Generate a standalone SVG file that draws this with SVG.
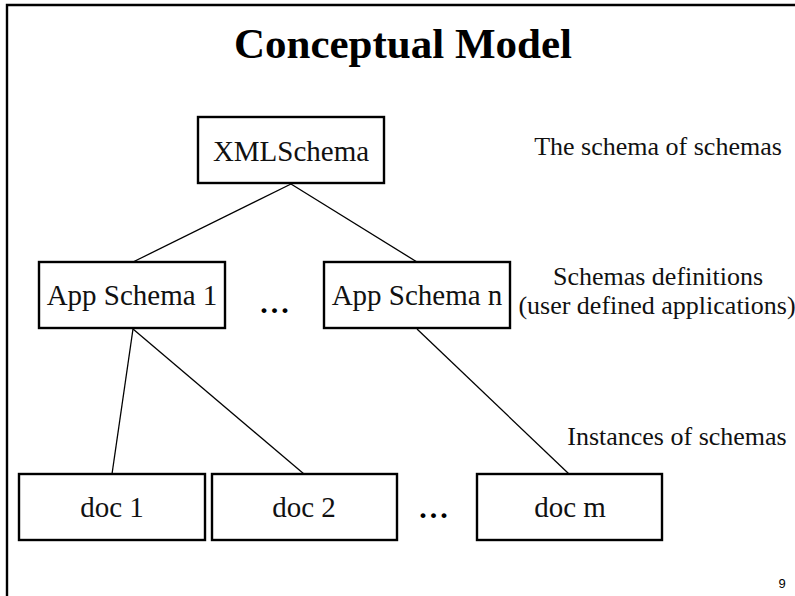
<svg xmlns="http://www.w3.org/2000/svg" width="795" height="596" viewBox="0 0 795 596">
  <style>
    .frame { fill: none; stroke: #000; stroke-width: 2.4; }
    .box { fill: #fff; stroke: #000; stroke-width: 2.4; }
    .edge { stroke: #000; stroke-width: 1.3; fill: none; }
    .title { font-family: "Liberation Serif", "Times New Roman", serif; font-size: 43px; font-weight: bold; text-anchor: middle; fill: #000; }
    .node { font-family: "Liberation Serif", "Times New Roman", serif; font-size: 29px; text-anchor: middle; fill: #111; }
    .note { font-family: "Liberation Serif", "Times New Roman", serif; font-size: 26px; text-anchor: middle; fill: #111; }
    .dots { font-family: "Liberation Serif", "Times New Roman", serif; font-size: 30px; font-weight: bold; text-anchor: middle; letter-spacing: 3px; fill: #000; }
    .page { font-family: "Liberation Sans", Arial, sans-serif; font-size: 13px; text-anchor: middle; fill: #000; }
  </style>

  <rect width="795" height="596" fill="#fff"/>
  <!-- slide frame: top and left edges -->
  <polyline class="frame" points="7,600 7,5 800,5"/>

  <text class="title" x="403" y="58">Conceptual Model</text>

  <!-- connectors -->
  <g id="connectors">
    <line class="edge" x1="291" y1="184" x2="133" y2="262"/>
    <line class="edge" x1="291" y1="184" x2="417" y2="262"/>
    <line class="edge" x1="133" y1="329" x2="112" y2="474"/>
    <line class="edge" x1="133" y1="329" x2="304" y2="474"/>
    <line class="edge" x1="417" y1="329" x2="569" y2="474"/>
  </g>

  <g id="xmlschema">
    <rect class="box" x="198" y="117" width="186" height="66"/>
    <text class="node" x="291" y="161">XMLSchema</text>
  </g>

  <g id="app-schema-1">
    <rect class="box" x="39" y="262" width="186" height="66"/>
    <text class="node" x="132" y="305">App Schema 1</text>
  </g>

  <g id="app-schema-n">
    <rect class="box" x="324" y="262" width="186" height="66"/>
    <text class="node" x="417" y="305">App Schema n</text>
  </g>

  <g id="doc-1">
    <rect class="box" x="19" y="474" width="186" height="66"/>
    <text class="node" x="112" y="517">doc 1</text>
  </g>

  <g id="doc-2">
    <rect class="box" x="212" y="474" width="185" height="66"/>
    <text class="node" x="304" y="517">doc 2</text>
  </g>

  <g id="doc-m">
    <rect class="box" x="477" y="474" width="185" height="66"/>
    <text class="node" x="570" y="517">doc m</text>
  </g>

  <!-- ellipses between siblings -->
  <text class="dots" x="276" y="313">...</text>
  <text class="dots" x="435" y="518">...</text>

  <!-- level annotations -->
  <text class="note" x="658" y="155">The schema of schemas</text>
  <text class="note" x="658" y="285">Schemas definitions</text>
  <text class="note" x="657" y="314">(user defined applications)</text>
  <text class="note" x="677" y="445">Instances of schemas</text>

  <text class="page" x="782" y="588">9</text>
</svg>
